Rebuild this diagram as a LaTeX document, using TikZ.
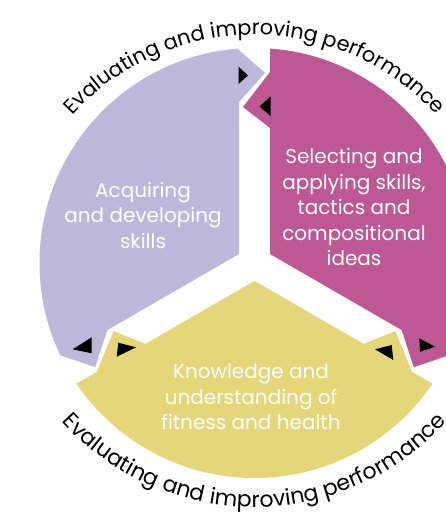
\documentclass[tikz,border=0pt]{standalone}
\usepackage{fontspec}
\setmainfont{Poppins}
\usetikzlibrary{decorations.text,calc}
\definecolor{lav}{RGB}{189,183,217}
\definecolor{mag}{RGB}{189,88,148}
\definecolor{yel}{RGB}{229,214,122}
\tikzset{
  inner text/.style={align=center, text=white, font=\fontsize{20}{25.5}\selectfont},
  marker/.style={fill=black},
}
\begin{document}
\begin{tikzpicture}[x=1pt,y=1pt]
\useasboundingbox (0,0) rectangle (446,513);
\clip (0,0) rectangle (446,513);
\coordinate (C) at (254.5,250);
\coordinate (CT) at (254.5,231);
\coordinate (CB) at (254.5,266);
\begin{scope}[shift={(C)}]
  % top gap frame
  \begin{scope}[rotate=0]
    \coordinate (Tae) at (-41.5,236); \coordinate (Ta2) at (10.5,190);
    \coordinate (Ta3) at (-15.5,161); \coordinate (Tac) at (-15.5,8.95);
    \coordinate (Taf) at (-41.5,400);
    \coordinate (Tbf) at (15.5,400); \coordinate (Tb2) at (15.5,191);
    \coordinate (Tb3) at (-11.5,156); \coordinate (Tb4) at (15.5,135);
    \coordinate (Tbc) at (15.5,8.95);
  \end{scope}
  % lower-right gap frame
  \begin{scope}[rotate=-120]
    \coordinate (Rae) at (-41.5,236); \coordinate (Ra2) at (10.5,190);
    \coordinate (Ra3) at (-15.5,161); \coordinate (Rac) at (-15.5,8.95);
    \coordinate (Raf) at (-41.5,400);
    \coordinate (Rbf) at (15.5,400); \coordinate (Rb2) at (15.5,191);
    \coordinate (Rb3) at (-11.5,156); \coordinate (Rb4) at (15.5,135);
    \coordinate (Rbc) at (15.5,8.95);
  \end{scope}
  % lower-left gap frame (mirrored)
  \begin{scope}[rotate=120]
    \coordinate (Lae) at (41.5,236); \coordinate (La2) at (-10.5,190);
    \coordinate (La3) at (15.5,161); \coordinate (Lac) at (15.5,8.95);
    \coordinate (Laf) at (41.5,400);
    \coordinate (Lbf) at (-15.5,400); \coordinate (Lb2) at (-15.5,191);
    \coordinate (Lb3) at (11.5,156); \coordinate (Lb4) at (-15.5,135);
    \coordinate (Lbc) at (-15.5,8.95);
  \end{scope}
  \coordinate (Fp) at (150:500);
  \coordinate (Fm) at (30:500);
  \coordinate (Fy) at (270:500);
\end{scope}

\begin{scope}
  \clip (C) circle[radius=215];
  \fill[lav] (Tae) -- (Ta2) -- (Ta3) -- (Tac) -- (La3) -- (La2) -- (Lae) -- (Laf) -- (Fp) -- (Taf) -- cycle;
  \fill[mag] (Tbf) -- (Tb2) -- (Tb3) -- (Tb4) -- (Tbc) -- (Ra3) -- (Ra2) -- (Rae) -- (Raf) -- (Fm) -- cycle;
  \fill[yel] (Rbf) -- (Rb2) -- (Rb3) -- (Rb4) -- (Rbc) -- (Lb4) -- (Lb3) -- (Lb2) -- (Lbf) -- (Fy) -- cycle;
\end{scope}

% direction markers
\fill[marker] (238.5,446.3) -- (238.5,429) -- (248,437.5) -- cycle;
\fill[marker] (270.5,416.5) -- (270.5,397) -- (259.5,406.5) -- cycle;
\fill[marker] (419.3,174.7) -- (420,161.3) -- (435,166.3) -- cycle;
\fill[marker] (375,163.7) -- (391.7,168) -- (393.3,153) -- cycle;
\fill[marker] (72.7,163.7) -- (91.7,175.7) -- (91.7,159.7) -- cycle;
\fill[marker] (118.3,170.3) -- (116.7,156.3) -- (136,165.7) -- cycle;

% texts
\node[inner text] (tp) at (143,298) {Acquiring\\and developing\\skills};
\node[inner text] (tm) at (354,306) {Selecting and\\applying skills,\\tactics and\\compositional\\ideas};
\node[inner text] (ty) at (251,116) {Knowledge and\\understanding of\\fitness and health};

\path[decorate, decoration={text along path, text align=center,
  text={|\fontsize{20.8}{21}\selectfont|Evaluating and improving performance}}]
  ($(CT)+(160:247)$) arc[start angle=160, end angle=20, radius=247];
\path[decorate, decoration={text along path, text align=center,
  text={|\fontsize{22}{22}\selectfont|Evaluating and improving performance}}]
  ($(CB)+(200:260)$) arc[start angle=200, end angle=340, radius=260];
\end{tikzpicture}
\end{document}
